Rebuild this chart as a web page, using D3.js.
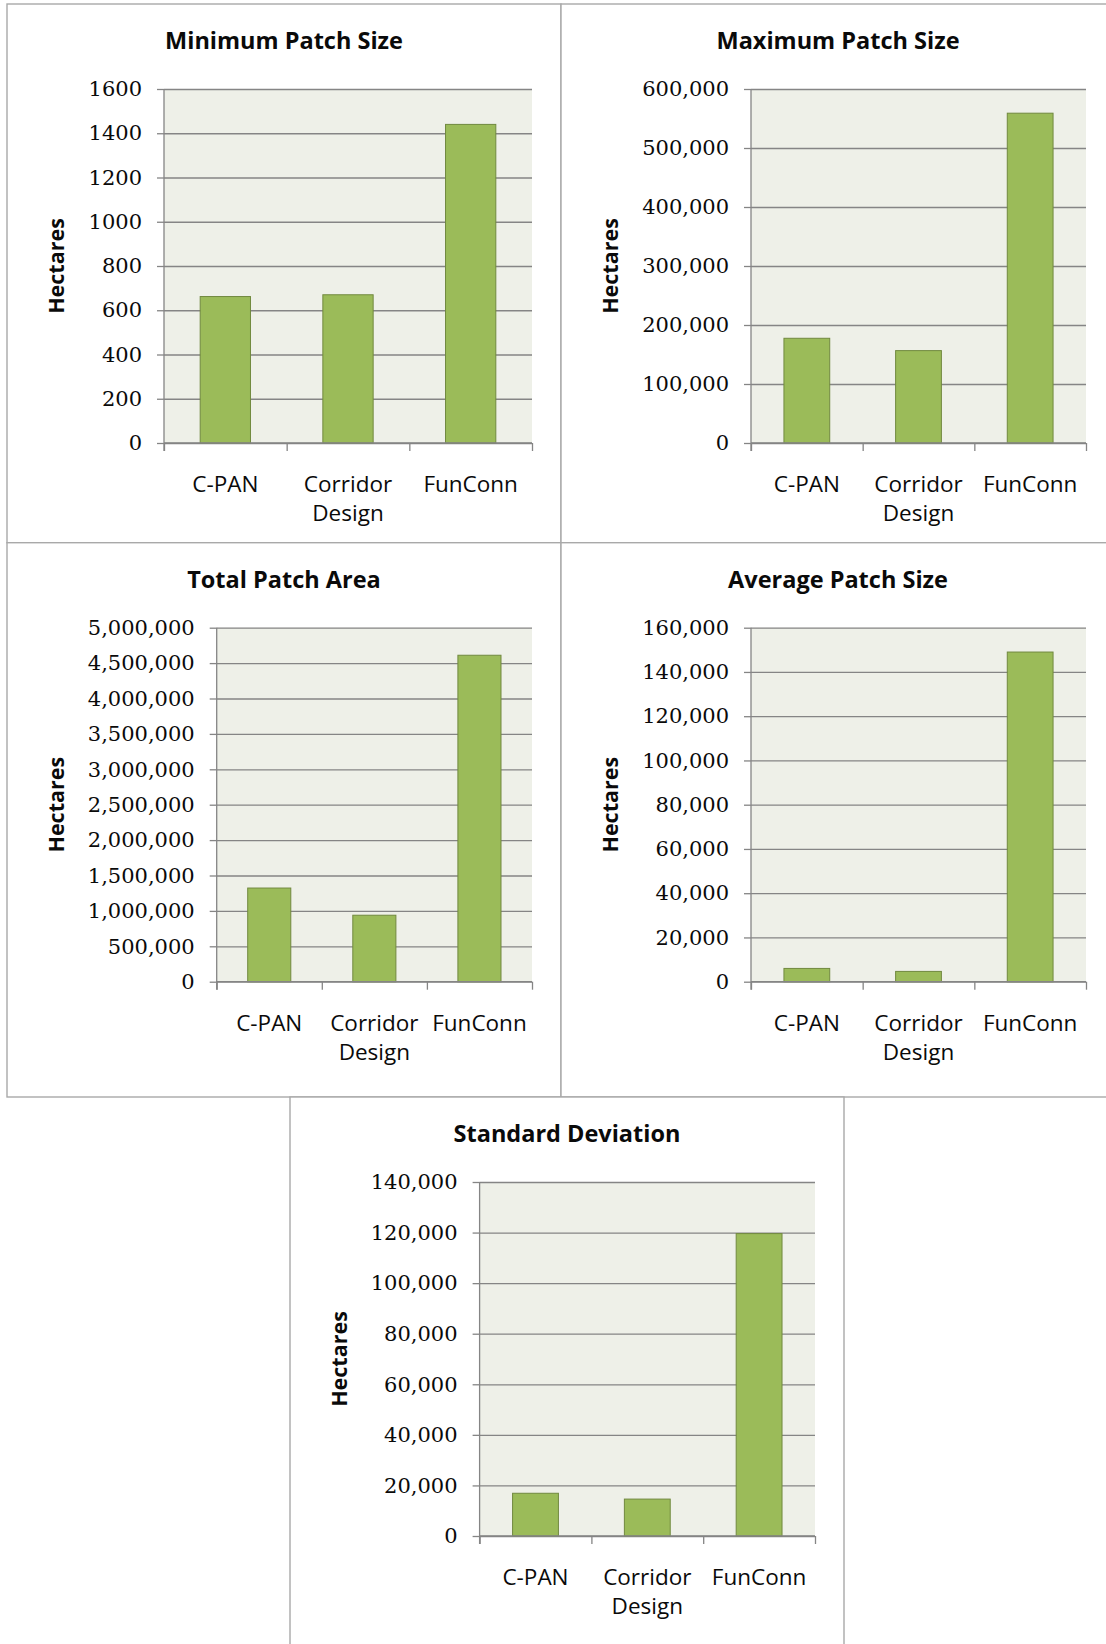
<!DOCTYPE html>
<html>
<head>
<meta charset="utf-8">
<script src="https://cdn.jsdelivr.net/npm/d3@7"></script>
<style>
  html, body { margin: 0; padding: 0; background: #ffffff; }
  svg { display: block; }
</style>
</head>
<body>
<svg id="chart" width="1106" height="1644"></svg>
<script>
// Patch statistics for three connectivity models, one small bar chart per metric
const categories = ["C-PAN", "Corridor Design", "FunConn"];

const chartTitles = [
  "Minimum Patch Size",
  "Maximum Patch Size",
  "Total Patch Area",
  "Average Patch Size",
  "Standard Deviation"
];

const minimumPatchSize = [662, 670, 1440];
const maximumPatchSize = [177500, 156600, 559000];
const totalPatchArea = [1323000, 939000, 4611000];
const averagePatchSize = [6000, 4650, 149000];
const standardDeviation = [16900, 14600, 119600];

// y-axis tick values for each chart
const minimumTicks = [0, 200, 400, 600, 800, 1000, 1200, 1400, 1600];
const maximumTicks = [0, 100000, 200000, 300000, 400000, 500000, 600000];
const totalTicks = [0, 500000, 1000000, 1500000, 2000000, 2500000, 3000000, 3500000, 4000000, 4500000, 5000000];
const averageTicks = [0, 20000, 40000, 60000, 80000, 100000, 120000, 140000, 160000];
const deviationTicks = [0, 20000, 40000, 60000, 80000, 100000, 120000, 140000];

const yAxisTitle = "Hectares";

const seriesList = [minimumPatchSize, maximumPatchSize, totalPatchArea, averagePatchSize, standardDeviation];
const tickList = [minimumTicks, maximumTicks, totalTicks, averageTicks, deviationTicks];
const tickFormats = [d3.format("d"), d3.format(","), d3.format(","), d3.format(","), d3.format(",")];

// Frame placement of each chart on the page
const frames = [
  { x: 7,   y: 4,     w: 554, h: 538.7, plotLeft: 157 },
  { x: 561, y: 4,     w: 560, h: 538.7, plotLeft: 190 },
  { x: 7,   y: 542.7, w: 554, h: 554.3, plotLeft: 209.7 },
  { x: 561, y: 542.7, w: 560, h: 554.3, plotLeft: 190 },
  { x: 290, y: 1097,  w: 554, h: 560,   plotLeft: 189.6 }
];

const PLOT_TOP = 85, PLOT_BOTTOM = 439, PLOT_RIGHT = 525;
const SANS = "'Open Sans', Lato, sans-serif";
const colors = {
  frame: "#a9a9a9",
  plotBg: "#eef0e8",
  grid: "#858585",
  bar: "#9bbb59",
  barEdge: "#71893f",
  text: "#0a0a0a"
};

const svg = d3.select("#chart");

frames.forEach((f, i) => {
  const g = svg.append("g").attr("transform", `translate(${f.x},${f.y})`);

  g.append("rect")
    .attr("x", 0).attr("y", 0)
    .attr("width", f.w).attr("height", f.h)
    .attr("fill", "#ffffff")
    .attr("stroke", colors.frame)
    .attr("stroke-width", 1.4);

  // title, centred on the frame
  g.append("text")
    .attr("x", 277).attr("y", 45)
    .attr("text-anchor", "middle")
    .attr("font-family", SANS)
    .attr("font-weight", 700)
    .attr("font-size", 23.5)
    .attr("fill", colors.text)
    .text(chartTitles[i]);

  const plotW = PLOT_RIGHT - f.plotLeft;
  const plotH = PLOT_BOTTOM - PLOT_TOP;
  const plot = g.append("g").attr("transform", `translate(${f.plotLeft},${PLOT_TOP})`);

  const ticks = tickList[i];
  const y = d3.scaleLinear().domain([0, d3.max(ticks)]).range([plotH, 0]);
  const x = d3.scaleBand().domain(categories).range([0, plotW])
    .paddingInner(0.59).paddingOuter(0.295);
  const xEdges = d3.scaleLinear().domain([0, categories.length]).range([0, plotW]);

  plot.append("rect")
    .attr("width", plotW).attr("height", plotH)
    .attr("fill", colors.plotBg);

  // horizontal gridlines
  plot.append("g")
    .call(d3.axisLeft(y).tickValues(ticks).tickSize(-plotW).tickFormat(""))
    .call(a => a.select(".domain").remove())
    .call(a => a.selectAll("line").attr("stroke", colors.grid).attr("stroke-width", 1.3));

  // bars
  plot.selectAll("rect.bar")
    .data(seriesList[i])
    .join("rect")
    .attr("class", "bar")
    .attr("x", (d, k) => x(categories[k]))
    .attr("y", d => y(d))
    .attr("width", x.bandwidth())
    .attr("height", d => y(0) - y(d))
    .attr("fill", colors.bar)
    .attr("stroke", colors.barEdge)
    .attr("stroke-width", 1);

  // value axis
  plot.append("g")
    .call(d3.axisLeft(y).tickValues(ticks).tickSize(7).tickPadding(15).tickFormat(tickFormats[i]))
    .call(a => a.select(".domain").attr("stroke", colors.grid).attr("stroke-width", 1.3)
      .attr("d", `M0,${plotH + 8}V0`))
    .call(a => a.selectAll("line").attr("stroke", colors.grid).attr("stroke-width", 1.3))
    .call(a => a.selectAll("text")
      .attr("font-family", "'DejaVu Serif', serif")
      .attr("font-size", 21)
      .attr("fill", colors.text));

  // category axis with ticks on the band edges
  plot.append("g")
    .attr("transform", `translate(0,${plotH})`)
    .call(d3.axisBottom(xEdges).tickValues(d3.range(categories.length + 1)).tickSize(8).tickFormat(""))
    .call(a => a.select(".domain").attr("stroke", colors.grid).attr("stroke-width", 1.3)
      .attr("d", `M0,0H${plotW}`))
    .call(a => a.selectAll("line").attr("stroke", colors.grid).attr("stroke-width", 1.3));

  // category labels, wrapped onto separate lines
  const labels = plot.append("g").selectAll("text")
    .data(categories)
    .join("text")
    .attr("x", d => x(d) + x.bandwidth() / 2)
    .attr("y", plotH + 49)
    .attr("text-anchor", "middle")
    .attr("font-family", SANS)
    .attr("font-size", 22.5)
    .attr("fill", colors.text);
  labels.each(function (d) {
    const t = d3.select(this);
    d.split(" ").forEach((word, j) => {
      t.append("tspan")
        .attr("x", x(d) + x.bandwidth() / 2)
        .attr("dy", j === 0 ? 0 : 29)
        .text(word);
    });
  });

  // y-axis title
  g.append("text")
    .attr("transform", `translate(57,${PLOT_TOP + plotH / 2}) rotate(-90)`)
    .attr("text-anchor", "middle")
    .attr("font-family", SANS)
    .attr("font-weight", 700)
    .attr("font-size", 21.5)
    .attr("fill", colors.text)
    .text(yAxisTitle);
});
</script>
</body>
</html>
